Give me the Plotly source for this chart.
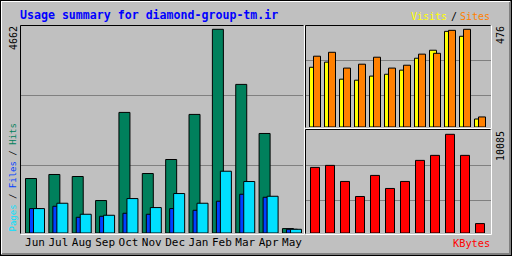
import plotly.graph_objects as go

W, H = 512, 256

months = ["Jun", "Jul", "Aug", "Sep", "Oct", "Nov", "Dec", "Jan", "Feb", "Mar", "Apr", "May"]
hits = [1247, 1339, 1293, 743, 2760, 1361, 1682, 2714, 4662, 3401, 2278, 101]
files = [559, 612, 360, 383, 452, 429, 559, 520, 727, 887, 818, 85]
pages = [559, 681, 429, 406, 788, 582, 903, 681, 1414, 1178, 841, 85]
visits = [291, 316, 233, 228, 248, 257, 277, 335, 374, 466, 442, 39]
sites = [345, 364, 287, 306, 340, 287, 301, 355, 359, 471, 476, 49]
kbytes = [6703, 6908, 5268, 3731, 5883, 4551, 5268, 7420, 7933, 10085, 7933, 963]

max_hits_label = "4662"
max_sites_label = "476"
max_kb_label = "10085"

BG = "#c0c0c0"
C_HITS, C_FILES, C_PAGES = "#00805c", "#0040ff", "#00e0ff"
C_VIS, C_SITES, C_KB = "#ffff00", "#ff8000", "#ff0000"
MONO = "DejaVu Sans Mono"


def px(x):
    return x / W


def py(y):
    return 1 - y / H


idx = list(range(len(months)))
fig = go.Figure()

# main panel bars (slot 23.36 px, centre of Jun at x=35)
S1 = 23.36
for vals, col, off in [(hits, C_HITS, -9.5), (files, C_FILES, -5.5), (pages, C_PAGES, -1.5)]:
    fig.add_trace(go.Bar(x=idx, y=vals, xaxis="x", yaxis="y", marker=dict(color=col, line=dict(color="black", width=1)),
                         width=11 / S1, offset=off / S1, hoverinfo="skip"))

S2 = 15.0
for vals, col, off in [(visits, C_VIS, -5.5), (sites, C_SITES, -1.5)]:
    fig.add_trace(go.Bar(x=idx, y=vals, xaxis="x2", yaxis="y2", marker=dict(color=col, line=dict(color="black", width=1)),
                         width=7 / S2, offset=off / S2, hoverinfo="skip"))

fig.add_trace(go.Bar(x=idx, y=kbytes, xaxis="x3", yaxis="y3", marker=dict(color=C_KB, line=dict(color="black", width=1)),
                     width=9 / S2, offset=-4.5 / S2, hoverinfo="skip"))

grid = dict(showgrid=True, gridcolor="#808080", gridwidth=1, zeroline=False, showticklabels=False, ticks="", showline=False)
noax = dict(showgrid=False, zeroline=False, showticklabels=False, ticks="", showline=False)

fig.update_layout(
    width=W, height=H, margin=dict(l=0, r=0, t=0, b=0), paper_bgcolor=BG, plot_bgcolor=BG,
    showlegend=False, barmode="overlay",
    xaxis=dict(domain=[px(20), px(303)], range=[(20 - 35) / S1, (303 - 35) / S1], tickmode="array", tickvals=idx,
               ticktext=months, showgrid=False, zeroline=False, ticks="", showline=False, ticklabelstandoff=1,
               tickfont=dict(family=MONO, size=11, color="black"), anchor="y"),
    yaxis=dict(domain=[py(233), py(25)], range=[0, 4662 * 208 / 203.7], tickmode="array", tickvals=[1549, 3142], **grid, anchor="x"),
    xaxis2=dict(domain=[px(305), px(491)], range=[(305 - 315) / S2, (491 - 315) / S2], **noax, anchor="y2"),
    yaxis2=dict(domain=[py(127), py(25)], range=[0, 476 * 102 / 97.7], tickmode="array", tickvals=[154, 325], **grid, anchor="x2"),
    xaxis3=dict(domain=[px(305), px(491)], range=[(305 - 315) / S2, (491 - 315) / S2], **noax, anchor="y3"),
    yaxis3=dict(domain=[py(233), py(129)], range=[0, 10085 * 104 / 98.7], tickmode="array", tickvals=[3341, 6917], **grid, anchor="x3"),
)

shapes = []


def line(x0, y0, x1, y1, col):
    shapes.append(dict(type="line", xref="paper", yref="paper", x0=px(x0), y0=py(y0), x1=px(x1), y1=py(y1),
                       line=dict(color=col, width=1), layer="above"))


# outer frame
line(0, 0.5, 512, 0.5, "black")
line(0.5, 0, 0.5, 256, "black")
line(511.5, 0, 511.5, 256, "black")
line(0, 255.5, 512, 255.5, "black")
line(1, 1.5, 510, 1.5, "white")
line(1.5, 1, 1.5, 254, "white")
line(509.5, 2, 509.5, 255, "#808080")
line(510.5, 1, 510.5, 255, "#808080")
line(2, 253.5, 511, 253.5, "#808080")
line(1, 254.5, 511, 254.5, "#808080")

# panels: black top/left outline, white right/bottom
for (x0, y0, x1, y1) in [(20, 25, 303, 233), (305, 25, 490, 127), (305, 129, 490, 233)]:
    line(x0 + 0.5, y0 + 0.5, x1 + 0.5, y0 + 0.5, "black")
    line(x0 + 0.5, y0 + 0.5, x0 + 0.5, y1 + 0.5, "black")
    line(x1 + 1.5, y0 + 0.5, x1 + 1.5, y1 + 1.5, "white")
    line(x0 + 0.5, y1 + 1.5, x1 + 1.5, y1 + 1.5, "white")
fig.update_layout(shapes=shapes)

ann = []


def text(t, x, y, size, color="black", xa="center", ya="middle", angle=0, bold=False):
    ann.append(dict(text=(f"<b>{t}</b>" if bold else t), x=px(x), y=py(y), xref="paper", yref="paper", showarrow=False,
                    xanchor=xa, yanchor=ya, textangle=angle, borderpad=0, borderwidth=0,
                    font=dict(family=MONO, size=size, color=color)))


text("Usage summary for diamond-group-tm.ir", 20, 15, 11.6, "#0000ff", xa="left", bold=True)
text("Visits", 447, 16, 10, C_VIS, xa="right")
text("/", 453.5, 16, 10, "black")
text("Sites", 460, 16, 10, C_SITES, xa="left")
text(f"<span style='color:{C_PAGES}'>Pages</span> / <span style='color:{C_FILES}'>Files</span> / <span style='color:{C_HITS}'>Hits</span>",
     12.5, 232, 9, "black", ya="bottom", angle=-90)
text(max_hits_label, 13, 26, 10, ya="top", angle=-90)
text(max_sites_label, 500, 26, 10, ya="top", angle=-90)
text(max_kb_label, 500, 131, 10, ya="top", angle=-90)
text("KBytes", 490, 243, 10.3, C_KB, xa="right")
fig.update_layout(annotations=ann)

fig.write_html("out.html")
